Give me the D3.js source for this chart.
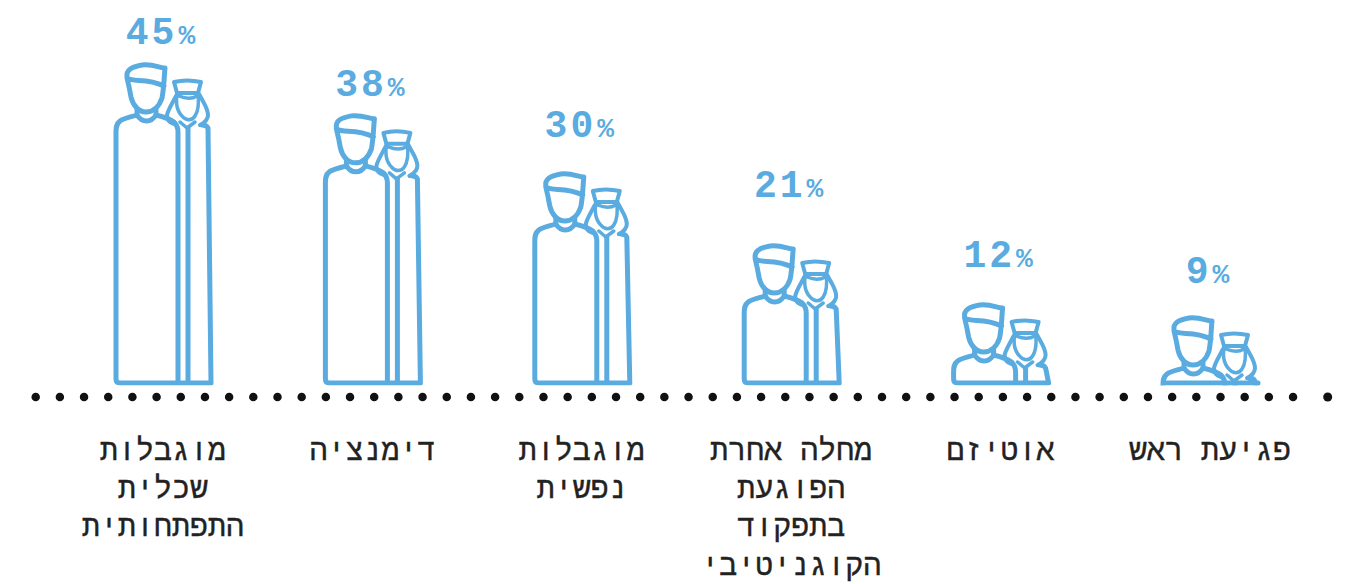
<!DOCTYPE html>
<html lang="he">
<head>
<meta charset="utf-8">
<title>Dementia caregivers</title>
<script src="https://cdnjs.cloudflare.com/ajax/libs/d3/7.8.5/d3.min.js"></script>
<style>
  html, body { margin: 0; background: #fff; overflow: hidden; }
  svg { display: block; }
  .pct { font-family: "Liberation Mono", monospace; font-weight: 700; fill: #5aabe0; letter-spacing: 3px; }
  .cat { font-family: "Liberation Mono", monospace; font-size: 30px; fill: #222; stroke: #222; stroke-width: 0.35px; direction: rtl; }
</style>
</head>
<body>
<svg width="1368" height="584"></svg>
<script>
var categories = ["מוגבלות שכלית התפתחותית", "דימנציה", "מוגבלות נפשית", "מחלה אחרת הפוגעת בתפקוד הקוגניטיבי", "אוטיזם", "פגיעת ראש"];
var catLines = [
  ["מוגבלות", "שכלית", "התפתחותית"],
  ["דימנציה"],
  ["מוגבלות", "נפשית"],
  ["מחלה אחרת", "הפוגעת", "בתפקוד", "הקוגניטיבי"],
  ["אוטיזם"],
  ["פגיעת ראש"]
];
var values = [45, 38, 30, 21, 12, 9];

var baseY = 383, dotY = 397;
var blue = "#5aabe0";

var svg = d3.select("svg");

var x = d3.scalePoint().domain(categories).range([163, 1210]);
// figure height is not quite proportional in the source, so the scales are piecewise
var topY = d3.scaleLinear().domain([9, 12, 21, 30, 45]).range([319, 306, 247, 175, 66]);
var labelY = d3.scaleLinear().domain([9, 12, 21, 30, 38, 45]).range([283, 267, 197, 137, 96, 44]);

// local coords: 0,0 = figure centre at top of head
var hair = "M-35,11 C-36,4 -31,1 -20,-1 C-10,-2 -4,1 2,2 L3,2 C2,12 2,22 0,32 C-3,41 -9,46 -16,46 C-23,46 -29,40 -31,31 C-32,25 -33,20 -35,12 C-28,17 -16,11 2,20";
var neck = "M-25,44 L-25,49 C-20,57 -11,57 -6,49 L-6,44";
var womanHat = "M12,16 C20,14 30,14 39,16 L36,27 L15,27 Z";
var womanFace = "M15,27 C14,36 14,44 20,50 C24,55 30,55 33,50 C37,44 37,36 36,27 M17,30 C24,33 30,33 35,30 M18,56 L25,62 L33,56";
var womanHair = "M14,30 C10,38 6,44 5,49 C5,54 8,57 12,58 M37,28 C41,36 46,42 46,49 C46,54 42,57 38,59";

function manBody(h) {
  var low = Math.max(h, 72);
  return "M-25,49 C-31,51 -38,52 -42,55 C-46,58 -46,62 -46,66 L-46," + (low - 4) + " Q-46," + low + " -42," + low +
    " M-42," + h + " L49," + h + " M49," + low + " L46,62 C45,60 43,59 40,59 M-6,49 C2,51 8,53 12,56 C15,59 16,62 16,66 L16," + low +
    " M26,62 L26," + low;
}

svg.append("clipPath").attr("id", "above-base")
  .append("rect").attr("x", 0).attr("y", 0).attr("width", 1368).attr("height", baseY + 2.5);

var fig = svg.append("g").attr("clip-path", "url(#above-base)")
  .selectAll("g.fig")
  .data(values)
  .enter().append("g")
    .attr("class", "fig")
    .attr("transform", function(d, i) { return "translate(" + (x(categories[i]) - 1) + "," + topY(d) + ")"; })
    .attr("fill", "none")
    .attr("stroke", blue)
    .attr("stroke-width", 5)
    .attr("stroke-linejoin", "round")
    .attr("stroke-linecap", "round");

fig.append("path").attr("d", function(d) { return manBody(baseY - topY(d)); });
fig.append("path").attr("d", hair);
fig.append("path").attr("d", neck);
fig.append("path").attr("d", womanHat).attr("stroke-width", 4);
fig.append("path").attr("d", womanFace).attr("stroke-width", 3.5);
fig.append("path").attr("d", womanHair).attr("stroke-width", 4);

// percent labels
var pct = svg.selectAll("text.pct")
  .data(values)
  .enter().append("text")
    .attr("class", "pct")
    .attr("x", function(d, i) { return x(categories[i]) - 1; })
    .attr("y", function(d) { return labelY(d); })
    .attr("text-anchor", "middle")
    .style("font-size", "38px");
pct.append("tspan").text(function(d) { return d; });
pct.append("tspan").style("font-size", "28px").attr("dx", 1).text("%");

// dotted baseline, the last dot sits further out
svg.append("line")
  .attr("x1", 35.7).attr("x2", 1294)
  .attr("y1", dotY).attr("y2", dotY)
  .attr("stroke", "#111")
  .attr("stroke-width", 8.5)
  .attr("stroke-linecap", "round")
  .attr("stroke-dasharray", "0 24.18");
svg.append("circle").attr("cx", 1327.7).attr("cy", dotY).attr("r", 4.5).attr("fill", "#111");

// category labels
var cat = svg.selectAll("text.cat")
  .data(catLines)
  .enter().append("text")
    .attr("class", "cat")
    .attr("text-anchor", "middle");
cat.selectAll("tspan")
  .data(function(d, i) { return d.map(function(t) { return { t: t, i: i }; }); })
  .enter().append("tspan")
    .attr("x", function(d) { return x(categories[d.i]); })
    .attr("y", function(d, j) { return 460 + j * 38.2; })
    .text(function(d) { return d.t; });
</script>
</body>
</html>
